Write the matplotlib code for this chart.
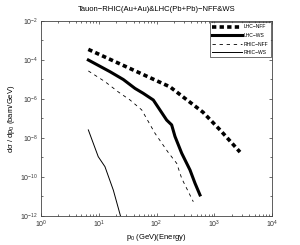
import matplotlib
matplotlib.use("Agg")
import matplotlib.pyplot as plt
from matplotlib.ticker import LogLocator, NullFormatter

# Data
lhc_nff_x = [6.6, 171, 638, 1259, 2790]
lhc_nff_y = [3.5e-4, 4.2e-6, 2.1e-7, 2.6e-8, 1.9e-9]

lhc_ws_x = [6.6, 15.7, 26.6, 42.4, 59, 88, 150, 183, 209, 273, 380, 464, 566]
lhc_ws_y = [1.0e-4, 2.5e-5, 1.0e-5, 3.5e-6, 1.95e-6, 8.9e-7, 8.3e-8, 4.7e-8,
            1.2e-8, 1.66e-9, 2.3e-10, 4.8e-11, 1.2e-11]

rhic_nff_x = [6.6, 12.8, 21.8, 34.8, 55.5, 94.2, 160, 224, 273, 434]
rhic_nff_y = [2.75e-5, 7.8e-6, 2.3e-6, 8.9e-7, 2.75e-7, 1.74e-8, 1.8e-9, 5.0e-10,
              8.5e-11, 5.4e-12]

rhic_ws_x = [6.6, 9.8, 12.8, 17.9, 23.8]
rhic_ws_y = [2.6e-8, 1.1e-9, 3.4e-10, 2.1e-11, 1.0e-12]

title = "Tauon\u2212RHIC(Au+Au)&LHC(Pb+Pb)\u2212NFF&WS"
xlabel = "p$_0$ (GeV)(Energy)"
ylabel = "d\u03c3 / dp$_0$ (barn/GeV)"

plt.rcParams['font.family'] = ['Liberation Sans', 'DejaVu Sans']
plt.rcParams['mathtext.fontset'] = 'custom'
plt.rcParams['mathtext.rm'] = 'Liberation Sans'
plt.rcParams['mathtext.it'] = 'Liberation Sans'

fig = plt.figure(figsize=(3.0, 2.45), dpi=100)
ax = fig.add_axes([41/300, 1-216/245, 231/300, 195/245])

ax.plot(lhc_nff_x, lhc_nff_y, color='black', lw=2.6, ls=(0, (1.2, 0.9)), label='LHC\u2212NFF')
ax.plot(lhc_ws_x, lhc_ws_y, color='black', lw=2.2, ls='-', label='LHC\u2212WS')
ax.plot(rhic_nff_x, rhic_nff_y, color='black', lw=0.6, ls=(0, (4, 4.5)), label='RHIC\u2212NFF')
ax.plot(rhic_ws_x, rhic_ws_y, color='black', lw=0.7, ls='-', label='RHIC\u2212WS')

ax.set_xscale('log')
ax.set_yscale('log')
ax.set_xlim(1, 1e4)
ax.set_ylim(1e-12, 1e-2)
ax.set_xticks([1, 10, 100, 1000, 10000])
ax.set_yticks([1e-12, 1e-10, 1e-8, 1e-6, 1e-4, 1e-2])
ax.xaxis.set_minor_locator(LogLocator(base=10, subs=range(2, 10), numticks=20))
ax.xaxis.set_minor_formatter(NullFormatter())
ax.yaxis.set_minor_locator(LogLocator(base=10, subs=(1.0,), numticks=20))
ax.yaxis.set_minor_formatter(NullFormatter())
ax.tick_params(which='both', direction='in', top=True, right=True, labelsize=5,
               colors='#333333', pad=2)
ax.tick_params(which='major', length=2.5, width=0.5)
ax.tick_params(which='minor', length=1.5, width=0.5)
for s in ax.spines.values():
    s.set_linewidth(0.6)
    s.set_color('#444444')

ax.set_title(title, fontsize=5.5, pad=7)
ax.set_xlabel(xlabel, fontsize=5.5, labelpad=1.5)
ax.set_ylabel(ylabel, fontsize=5.5, labelpad=2)

leg = ax.legend(loc='upper right', fontsize=3.6, frameon=True, fancybox=False,
                edgecolor='black', handlelength=6.0, borderpad=0.5,
                labelspacing=0.7, handletextpad=0.3, borderaxespad=0.2)
leg.get_frame().set_linewidth(0.5)

fig.savefig('out.png', dpi=100)
